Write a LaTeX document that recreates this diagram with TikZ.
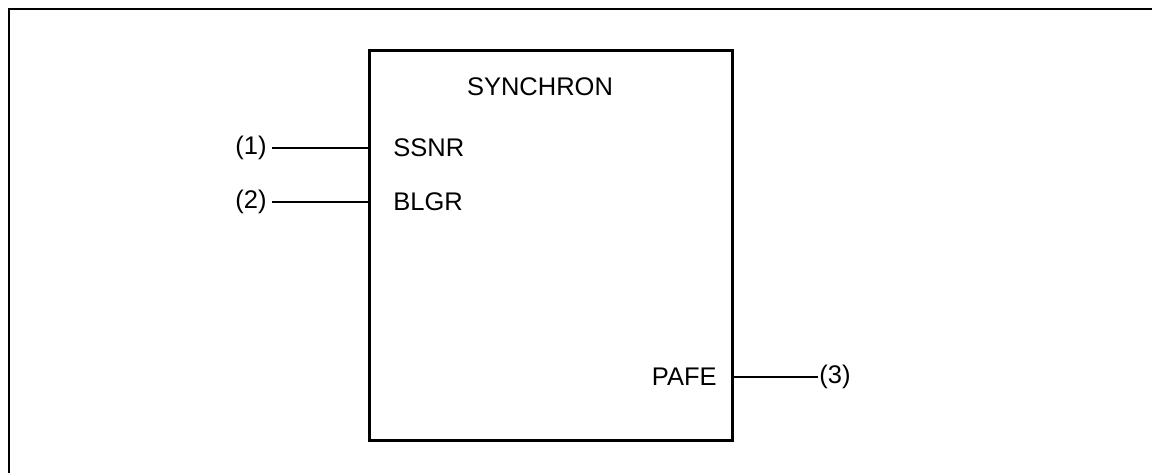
\documentclass[tikz,border=0pt]{standalone}
\usepackage{fontspec}
\setmainfont{Liberation Sans}
\usetikzlibrary{positioning}

\begin{document}
\begin{tikzpicture}[x=1pt, y=-1pt, line width=2.8pt, every node/.style={font=\fontsize{25.5}{30}\selectfont, inner sep=0pt}]
  \useasboundingbox (0,0) rectangle (1152,473);
  \coordinate (fbl) at (9,473); \coordinate (ftl) at (9,9); \coordinate (ftr) at (1152,9);
  \draw[line width=2.2pt] (fbl)--(ftl)--(ftr);
  \node[draw, line width=3.2pt, minimum width=363pt, minimum height=390pt, anchor=north west] (sync) at (368,49) {};
  \node (title) at (540,87) {SYNCHRON};
  \node[anchor=west] (ssnr) at (392,148) {SSNR}; \node[anchor=west] (blgr) at (392,202) {BLGR};
  \node[anchor=east] (pafe) at (718,377) {PAFE};
  \node[anchor=east, inner xsep=4pt] (in1) at (272,148) {(1)}; \node[anchor=east, inner xsep=4pt] (in2) at (272,202) {(2)};
  \node[anchor=west] (out3) at (818,377) {(3)};
  \draw (in1)--(sync.west |- in1); \draw (in2)--(sync.west |- in2); \draw (sync.east |- out3)--(out3);
\end{tikzpicture}
\end{document}
